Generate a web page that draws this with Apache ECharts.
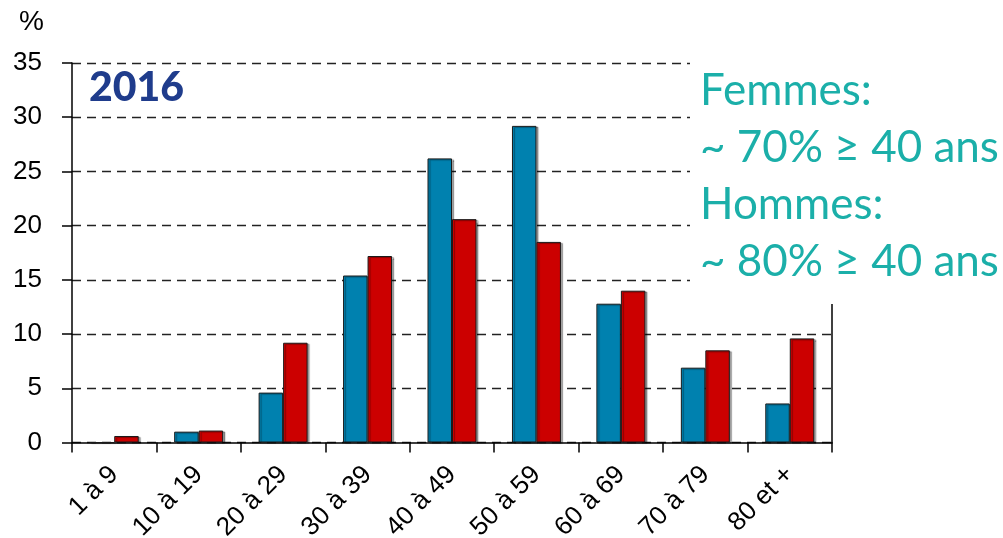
<!DOCTYPE html>
<html>
<head>
<meta charset="utf-8">
<script src="https://cdn.jsdelivr.net/npm/echarts@6/dist/echarts.min.js"></script>
<style>
  html, body { margin: 0; padding: 0; background: #fff; }
  #chart { width: 1003px; height: 538px; }
</style>
</head>
<body>
<div id="chart"></div>
<script>
// tranches d'âge
const categories = ['1 à 9', '10 à 19', '20 à 29', '30 à 39', '40 à 49', '50 à 59', '60 à 69', '70 à 79', '80 et +']
// pourcentages
const femmes = [0, 1.0, 4.6, 15.4, 26.2, 29.2, 12.8, 6.9, 3.6]
const hommes = [0.6, 1.1, 9.2, 17.2, 20.6, 18.5, 14.0, 8.5, 9.6]
const yTicks = [0, 5, 10, 15, 20, 25, 30, 35]
const noteLines = ['Femmes:', '~ 70% ≥ 40 ans', 'Hommes:', '~ 80% ≥ 40 ans']

const chart = echarts.init(document.getElementById('chart'))

const barStyle = color => ({
  color: color,
  borderColor: '#1a1a1a',
  borderWidth: 1,
  shadowColor: 'rgba(0,0,0,0.35)',
  shadowOffsetX: 2,
  shadowOffsetY: 1,
  shadowBlur: 1
})

const option = {
  animation: false,
  backgroundColor: '#fff',
  grid: { left: 72, right: 171, top: 63, bottom: 95.5, containLabel: false, outerBoundsMode: 'none' },
  xAxis: {
    type: 'category',
    data: categories,
    boundaryGap: true,
    axisLine: { lineStyle: { color: '#000', width: 1.5 } },
    axisTick: { show: true, length: 10, inside: false, lineStyle: { color: '#000', width: 1.5 } },
    axisLabel: {
      rotate: 45,
      margin: 28,
      color: '#000',
      fontFamily: 'Liberation Sans',
      fontSize: 26
    }
  },
  yAxis: [
    {
      type: 'value',
      min: yTicks[0],
      max: yTicks[yTicks.length - 1],
      interval: 5,
      axisLine: { show: true, lineStyle: { color: '#000', width: 1.5 } },
      axisTick: { show: true, length: 10, lineStyle: { color: '#000', width: 1.5 } },
      axisLabel: {
        margin: 30,
        color: '#000',
        fontFamily: 'Liberation Sans',
        fontSize: 26
      },
      splitLine: { show: true, lineStyle: { color: '#222', width: 1.3, type: [9, 6] } }
    },
    {
      type: 'value',
      position: 'right',
      min: 0,
      max: 35,
      interval: 5,
      axisLine: { show: true, lineStyle: { color: '#000', width: 1.5 } },
      axisTick: { show: false },
      axisLabel: { show: false },
      splitLine: { show: false }
    }
  ],
  series: [
    {
      name: 'Femmes',
      type: 'bar',
      data: femmes,
      barWidth: '29%',
      barGap: '0%',
      itemStyle: barStyle('#0081AF')
    },
    {
      name: 'Hommes',
      type: 'bar',
      data: hommes,
      barWidth: '29%',
      barGap: '0%',
      itemStyle: barStyle('#CC0000')
    }
  ],
  graphic: [
    {
      type: 'text',
      left: 19,
      top: 8,
      style: { text: '%', fill: '#000', font: '28px "Liberation Sans"' }
    },
    {
      type: 'text',
      left: 89,
      top: 67,
      z: 100,
      style: { text: '2016', fill: '#1F3C8C', font: '900 41px Lato' }
    },
    {
      type: 'rect',
      z: 99,
      shape: { x: 690, y: 50, width: 313, height: 254 },
      style: { fill: '#fff' }
    },
    {
      type: 'text',
      left: 700,
      top: 62,
      z: 100,
      style: {
        text: noteLines.join('\n'),
        fill: '#1BAFA9',
        font: '44px Lato',
        lineHeight: 57
      }
    }
  ]
}

chart.setOption(option)

window.addEventListener('resize', () => {
  chart.resize()
})
</script>
</body>
</html>
